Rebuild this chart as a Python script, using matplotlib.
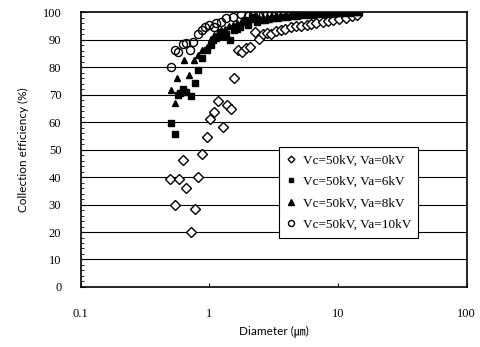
import numpy as np
import matplotlib
matplotlib.use("Agg")
import matplotlib.pyplot as plt
from matplotlib.ticker import FixedLocator, NullLocator, MultipleLocator

# ---- data ----
# Vc=50kV, Va=0kV (open diamonds)
d0 = [0.49, 0.54, 0.58, 0.62, 0.66, 0.72, 0.77, 0.82, 0.88, 0.95, 1.01, 1.09,
      1.17, 1.27, 1.36, 1.46, 1.54, 1.67, 1.80, 1.93, 2.06, 2.25, 2.43, 2.60,
      2.80, 3.00, 3.30, 3.60, 3.90, 4.30, 4.70, 5.20, 5.70, 6.20, 6.80, 7.60,
      8.30, 9.10, 10.2, 11.6, 12.8, 14.0]
e0 = [39.3, 29.8, 39.3, 46.2, 35.9, 19.9, 28.4, 39.9, 48.4, 54.4, 61.0, 63.5,
      67.5, 58.1, 66.2, 64.6, 76.1, 86.2, 85.6, 86.8, 87.4, 92.8, 90.1, 92.2,
      92.4, 92.2, 93.0, 93.6, 94.0, 94.6, 94.9, 95.1, 95.3, 95.6, 96.0, 96.3,
      96.8, 97.1, 97.4, 97.7, 98.5, 99.0]

# Vc=50kV, Va=6kV (filled squares)
d6 = [0.50, 0.54, 0.57, 0.59, 0.62, 0.66, 0.72, 0.77, 0.82, 0.88, 0.95, 1.02,
      1.07, 1.13, 1.20, 1.27, 1.35, 1.44, 1.55, 1.65, 1.72, 1.88, 2.00, 2.18,
      2.35, 2.50, 2.70, 2.90, 3.10, 3.40, 3.70, 4.00, 4.40, 4.80, 5.30, 5.80,
      6.30, 6.90, 7.60, 8.30, 9.10, 10.0, 11.0, 12.1, 13.3, 14.6]
e6 = [59.7, 55.6, 69.8, 70.4, 71.9, 71.0, 69.6, 74.3, 78.9, 83.2, 86.2, 88.0,
      89.8, 90.5, 92.8, 91.5, 92.0, 89.8, 93.5, 94.0, 94.7, 97.1, 95.5, 98.3,
      96.5, 97.0, 97.3, 97.6, 97.8, 98.0, 98.2, 98.4, 98.6, 98.7, 98.9, 99.0,
      99.1, 99.2, 99.3, 99.4, 99.5, 99.6, 99.7, 99.8, 99.9, 100.0]

# Vc=50kV, Va=8kV (filled triangles)
d8 = [0.50, 0.54, 0.56, 0.63, 0.69, 0.76, 0.82, 0.88, 0.95, 1.02, 1.09, 1.16,
      1.24, 1.32, 1.42, 1.52, 1.63, 1.75, 1.88, 2.00, 2.20, 2.40, 2.60, 2.80,
      3.00, 3.30, 3.60, 3.90, 4.30, 4.70, 5.20, 5.70, 6.20, 6.80, 7.50, 8.30,
      9.10, 10.0, 11.0, 12.1, 13.3, 14.6]
e8 = [71.6, 67.0, 75.9, 82.5, 77.1, 82.5, 84.5, 86.2, 87.4, 90.2, 91.8, 92.5,
      93.4, 94.0, 94.8, 95.3, 95.9, 96.4, 96.8, 97.0, 97.4, 97.7, 97.9, 98.1,
      98.3, 98.5, 98.6, 98.8, 98.9, 99.0, 99.2, 99.3, 99.4, 99.5, 99.6, 99.7,
      99.8, 99.8, 99.9, 99.9, 100.0, 100.0]

# Vc=50kV, Va=10kV (open circles)
d10 = [0.50, 0.54, 0.57, 0.62, 0.66, 0.71, 0.75, 0.81, 0.87, 0.92, 1.00, 1.08,
       1.13, 1.24, 1.35, 1.52, 1.77, 2.00, 2.20, 2.40, 2.60, 2.80, 3.00, 3.30,
       3.60, 3.90, 4.30, 4.70, 5.20, 5.70, 6.20, 6.80, 7.50, 8.30, 9.10, 10.0]
e10 = [80.1, 86.2, 85.6, 88.4, 88.6, 86.4, 89.2, 91.9, 93.5, 94.7, 95.3, 94.7,
       95.9, 96.5, 97.7, 98.3, 99.3, 98.6, 99.0, 99.1, 99.3, 99.4, 99.5, 99.5,
       99.6, 99.6, 99.7, 99.7, 99.8, 99.8, 99.8, 99.9, 99.9, 99.9, 100.0, 100.0]

labels = ["Vc=50kV, Va=0kV", "Vc=50kV, Va=6kV",
          "Vc=50kV, Va=8kV", "Vc=50kV, Va=10kV"]
x_ticks = [0.1, 1, 10, 100]
x_tick_labels = ["0.1", "1", "10", "100"]
y_ticks = list(range(0, 101, 10))

serif = "Liberation Serif"

fig = plt.figure(figsize=(4.81, 3.47), dpi=100)
ax = fig.add_axes([0.168, 0.173, 0.802, 0.792])

ax.plot(d0, e0, ls="none", marker="D", ms=4.6, mfc="white", mec="black",
        mew=1.0, label=labels[0], zorder=3)
ax.plot(d6, e6, ls="none", marker="s", ms=4.6, mfc="black", mec="black",
        label=labels[1], zorder=4)
ax.plot(d8, e8, ls="none", marker="^", ms=5.0, mfc="black", mec="black",
        label=labels[2], zorder=5)
ax.plot(d10, e10, ls="none", marker="o", ms=5.8, mfc="none", mec="black",
        mew=1.0, label=labels[3], zorder=6)

ax.set_xscale("log")
ax.set_xlim(0.1, 100)
ax.set_ylim(0, 100)

ax.xaxis.set_major_locator(FixedLocator(x_ticks))
ax.xaxis.set_minor_locator(NullLocator())
ax.set_xticklabels(x_tick_labels)
ax.set_yticks(y_ticks)
ax.yaxis.set_minor_locator(MultipleLocator(2))

for y in y_ticks[1:-1]:
    ax.axhline(y, color="black", lw=0.8, zorder=1)

ax.tick_params(axis="both", which="major", direction="in", length=3,
               width=0.8, pad=14, labelsize=9)
ax.tick_params(axis="y", which="minor", direction="in", length=2, width=0.6)
ax.tick_params(axis="x", which="major", pad=15)
for lab in ax.get_xticklabels() + ax.get_yticklabels():
    lab.set_fontfamily(serif)

for s in ax.spines.values():
    s.set_linewidth(1.2)

ax.set_ylabel("Collection efficiency (%)", fontsize=8.5, family="Lato",
              labelpad=10)
ax.set_xlabel("Diameter (\u339b)", fontsize=8.5,
              family=["Lato", "Noto Sans CJK JP"], labelpad=4)

leg = ax.legend(loc="upper left", bbox_to_anchor=(0.515, 0.51),
                prop={"family": serif, "size": 9.5}, frameon=True,
                fancybox=False, edgecolor="black", framealpha=1,
                handlelength=0.7, handletextpad=0.5, labelspacing=0.7,
                borderpad=0.55, borderaxespad=0, markerscale=0.75)
leg.get_frame().set_linewidth(0.8)
leg.set_zorder(10)

fig.savefig("out.png", dpi=100)
